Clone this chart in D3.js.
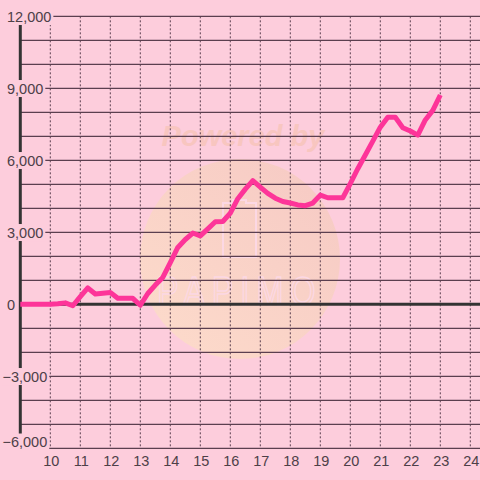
<!DOCTYPE html>
<html>
<head>
<meta charset="utf-8">
<script src="https://cdn.jsdelivr.net/npm/d3@7"></script>
<style>
  html, body { margin: 0; padding: 0; background: #fdcddc; }
  svg { display: block; }
  text { font-family: "Liberation Sans", Arial, sans-serif; }
</style>
</head>
<body>
<div id="chart"></div>
<script>
// hours of the day, 15 min steps
const times = [
  9.00, 9.25, 9.50, 9.75, 10.00, 10.25, 10.50, 10.75,
  11.00, 11.25, 11.50, 11.75, 12.00, 12.25, 12.50, 12.75,
  13.00, 13.25, 13.50, 13.75, 14.00, 14.25, 14.50, 14.75,
  15.00, 15.25, 15.50, 15.75, 16.00, 16.25, 16.50, 16.75,
  17.00, 17.25, 17.50, 17.75, 18.00, 18.25, 18.50, 18.75,
  19.00, 19.25, 19.50, 19.75, 20.00, 20.25, 20.50, 20.75,
  21.00, 21.25, 21.50, 21.75, 22.00, 22.25, 22.50, 22.75,
  23.00
];
const values = [
  0, 0, 0, 0, 0, 20, 60, -60,
  320, 680, 430, 460, 490, 250, 250, 250,
  -40, 450, 800, 1120, 1740, 2370, 2700, 2970,
  2850, 3140, 3440, 3450, 3800, 4400, 4800, 5150,
  4880, 4620, 4420, 4280, 4220, 4140, 4110, 4220,
  4550, 4440, 4440, 4440, 5030, 5650, 6220, 6800,
  7380, 7790, 7790, 7360, 7220, 7050, 7680, 8080,
  8720
];
const xTicks = [10, 11, 12, 13, 14, 15, 16, 17, 18, 19, 20, 21, 22, 23, 24];
const yTicks = [-6000, -3000, 0, 3000, 6000, 9000, 12000];
const yGrid = [-6000, -5000, -4000, -3000, -2000, -1000, 1000, 2000, 3000,
  4000, 5000, 6000, 7000, 8000, 9000, 10000, 11000, 12000];

const width = 480, height = 480;
const gridColor = "#5b3f4f";
const textColor = "#4d4048";

const svg = d3.select("#chart").append("svg")
  .attr("width", width)
  .attr("height", height);

const x = d3.scaleLinear().domain([9, 24]).range([20.3, 470.3]);
const y = d3.scaleLinear().domain([-6000, 12000]).range([448.3, 16.3]);

// watermark (faint)
const defs = svg.append("defs");
const grad = defs.append("linearGradient").attr("id", "wm")
  .attr("x1", "0%").attr("y1", "100%").attr("x2", "100%").attr("y2", "0%");
grad.append("stop").attr("offset", "0%").attr("stop-color", "#fddccb");
grad.append("stop").attr("offset", "100%").attr("stop-color", "#f6c9c4");

const wm = svg.append("g").attr("class", "watermark");
wm.append("circle").attr("cx", 240).attr("cy", 259).attr("r", 100)
  .attr("fill", "url(#wm)");
wm.append("text")
  .attr("x", 243).attr("y", 146)
  .attr("text-anchor", "middle")
  .attr("font-size", 29).attr("font-weight", "bold").attr("font-style", "italic")
  .attr("fill", "#f8c6c0")
  .text("Powered by");
// phone outline
wm.append("path")
  .attr("d", "M223,203 h10 v-3 h13 v3 h10 v54 h-33 Z")
  .attr("fill", "none").attr("stroke", "#fcd8e4").attr("stroke-width", 2);
wm.append("text")
  .attr("x", 240).attr("y", 305)
  .attr("text-anchor", "middle")
  .attr("font-size", 40).attr("letter-spacing", 9)
  .attr("transform", "translate(240,0) scale(0.8,1) translate(-240,0)")
  .attr("fill", "none").attr("stroke", "#fcd8e4").attr("stroke-width", 1.5)
  .text("PAPIMO");

// horizontal grid
svg.append("g").selectAll("line")
  .data(yGrid)
  .join("line")
  .attr("x1", 20).attr("x2", width)
  .attr("y1", d => y(d)).attr("y2", d => y(d))
  .attr("stroke", gridColor).attr("stroke-width", 1.3);

// vertical dashed grid
svg.append("g").selectAll("line")
  .data(xTicks)
  .join("line")
  .attr("x1", d => x(d)).attr("x2", d => x(d))
  .attr("y1", y(12000)).attr("y2", y(-6000))
  .attr("stroke", gridColor).attr("stroke-width", 1)
  .attr("stroke-dasharray", "2,2");

// zero line + y axis
svg.append("line")
  .attr("x1", 20).attr("x2", width)
  .attr("y1", y(0)).attr("y2", y(0))
  .attr("stroke", "#333").attr("stroke-width", 3);
svg.append("line")
  .attr("x1", x(9)).attr("x2", x(9))
  .attr("y1", y(12000)).attr("y2", y(-6000))
  .attr("stroke", "#333").attr("stroke-width", 3);

// data line
const line = d3.line()
  .x((d, i) => x(times[i]))
  .y(d => y(d));
svg.append("path")
  .datum(values)
  .attr("d", line)
  .attr("fill", "none")
  .attr("stroke", "#fd3599")
  .attr("stroke-width", 5)
  .attr("stroke-linejoin", "round");

// y labels with background box (bottom one nudged up to stay inside)
const fmt = d3.format(",");
const yl = svg.append("g").selectAll("g")
  .data(yTicks)
  .join("g");
yl.append("rect").attr("fill", "#fdcddc");
yl.append("text")
  .attr("x", d => d < 0 ? 2.5 : 7)
  .attr("y", d => y(d) - (d === -6000 ? 6.5 : 0))
  .attr("dy", "0.36em")
  .attr("font-size", 14.5)
  .attr("fill", textColor)
  .text(d => fmt(d));
yl.each(function() {
  const t = d3.select(this).select("text").node().getBBox();
  d3.select(this).select("rect")
    .attr("x", t.x - 1).attr("y", t.y - 0.5)
    .attr("width", t.width + 3).attr("height", t.height + 1);
});

// x labels
svg.append("g").selectAll("text")
  .data(xTicks)
  .join("text")
  .attr("x", d => x(d) + 1)
  .attr("y", 465.5)
  .attr("text-anchor", "middle")
  .attr("font-size", 14.5)
  .attr("fill", textColor)
  .text(d => d);
</script>
</body>
</html>
